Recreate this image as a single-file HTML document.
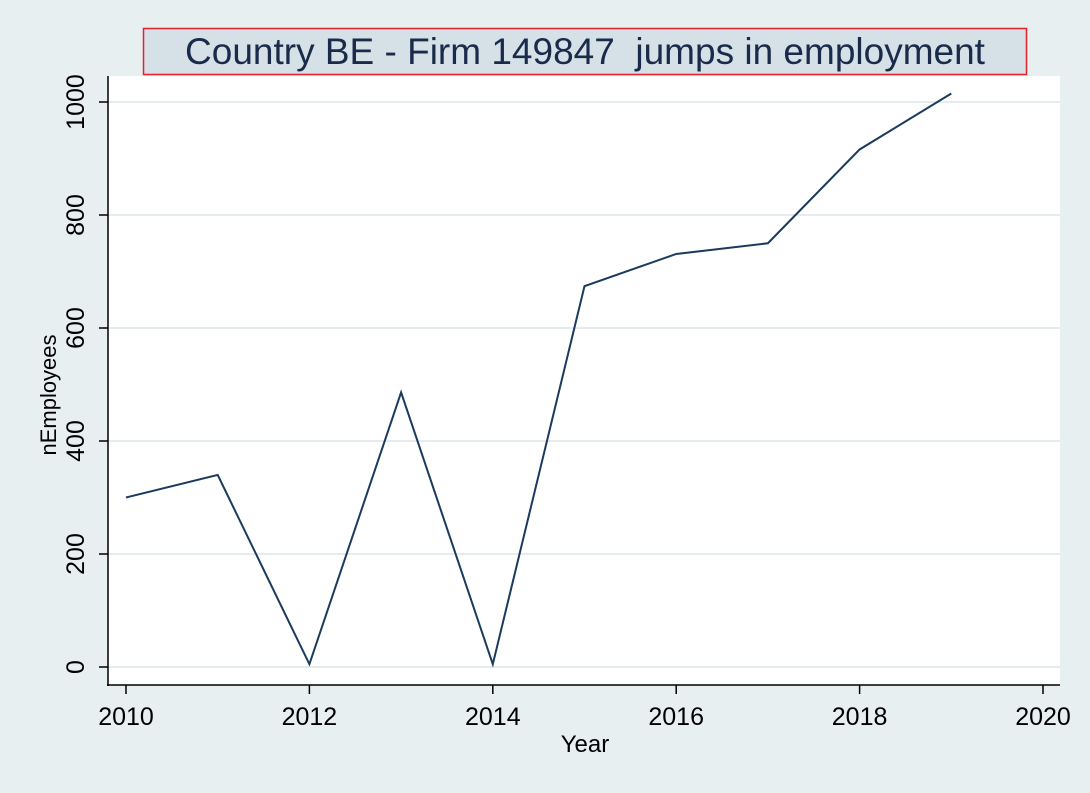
<!DOCTYPE html>
<html><head><meta charset="utf-8"><style>
body{margin:0;background:#e7eff1;}
svg{display:block;font-family:"Liberation Sans",sans-serif;}
</style></head><body>
<svg width="1090" height="793">
<rect x="0" y="0" width="1090" height="793" fill="#e7eff1"/>
<rect x="108" y="76" width="952" height="609" fill="#ffffff"/>
<g id="grid"></g>
<rect x="143.5" y="28.5" width="883" height="46" fill="#d5e1e7" stroke="#e8202a" stroke-width="1.5"/>
<text x="585" y="64" font-size="37" fill="#1a2a4a" text-anchor="middle">Country BE - Firm 149847&#160; jumps in employment</text>
<g id="axes"></g>
<path id="line" fill="none" stroke="#1a3a5e" stroke-width="2"/>
<text x="585" y="752" font-size="24" text-anchor="middle">Year</text>
<text transform="translate(56,395) rotate(-90)" font-size="22" text-anchor="middle">nEmployees</text>
</svg>
<script>
const years=[2010,2011,2012,2013,2014,2015,2016,2017,2018,2019];
const employees=[300,340,5,486,5,674,731,750,916,1015];
const xTicks=[2010,2012,2014,2016,2018,2020];
const yTicks=[0,200,400,600,800,1000];
const ns="http://www.w3.org/2000/svg";
const X=v=>126+(v-2010)*(1043-126)/10;
const Y=v=>667-v*(667-102)/1000;
const grid=document.getElementById('grid'),axes=document.getElementById('axes');
function mk(tag,attrs,parent){const e=document.createElementNS(ns,tag);for(const k in attrs)e.setAttribute(k,attrs[k]);parent.appendChild(e);return e;}
yTicks.forEach(t=>{
 const g=mk('line',{x1:108,x2:1060,y1:Y(t),y2:Y(t),stroke:'#e4ecef','stroke-width':2},grid);
 
 
 const tk=mk('line',{x1:99,x2:108,y1:Y(t),y2:Y(t),stroke:'#000','stroke-width':1.5},axes);
 
 
 const tx=mk('text',{transform:`translate(84,${Y(t)}) rotate(-90)`,'font-size':25,'text-anchor':'middle'},axes);
 tx.textContent=t;
 
 
});
xTicks.forEach(t=>{
 const tk=mk('line',{x1:X(t),x2:X(t),y1:685,y2:694,stroke:'#000','stroke-width':1.5},axes);
 
 
 const tx=mk('text',{x:X(t),y:725,'font-size':25,'text-anchor':'middle'},axes);
 tx.textContent=t;
 
 
});
const ay=mk('line',{x1:108,x2:108,y1:76,y2:686,stroke:'#000','stroke-width':1.5},axes);


const ax=mk('line',{x1:107,x2:1060,y1:685,y2:685,stroke:'#000','stroke-width':1.5},axes);


document.getElementById('line').setAttribute('d',years.map((y,i)=>(i?'L':'M')+X(y)+','+Y(employees[i])).join(' '));
</script>
</body></html>
